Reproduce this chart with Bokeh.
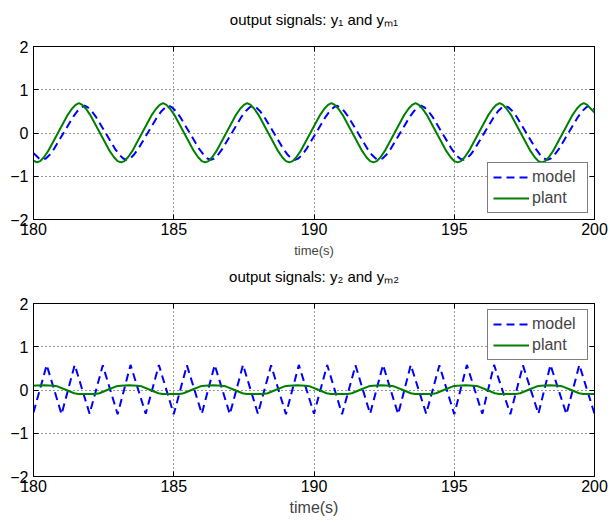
from bokeh.plotting import figure
from bokeh.models import FixedTicker, LinearAxis, Range1d, Legend, LegendItem
from bokeh.layouts import column
from bokeh.embed import file_html
from bokeh.resources import INLINE

# ---------------- data ----------------
x_ticks = [180, 185, 190, 195, 200]
y_ticks = [-2, -1, 0, 1, 2]
y_tick_labels = {-2: "\u22122", -1: "\u22121", 0: "0", 1: "1", 2: "2"}

title_1 = "output signals: y\u2081 and y\u2098\u2081"
title_2 = "output signals: y\u2082 and y\u2098\u2082"
x_label = "time(s)"
series_names = ["model", "plant"]

# top panel: plant output y1 (green)
t_plant1 = [180.00,
    180.12, 180.24, 180.37, 180.52, 180.87, 181.22, 181.37, 181.50, 181.62, 181.74, 181.87, 182.02, 182.37, 182.72, 182.87, 183.00,
    183.12, 183.24, 183.37, 183.52, 183.87, 184.22, 184.37, 184.50, 184.62, 184.74, 184.87, 185.02, 185.37, 185.72, 185.87, 186.00,
    186.12, 186.24, 186.37, 186.52, 186.87, 187.22, 187.37, 187.50, 187.62, 187.74, 187.87, 188.02, 188.37, 188.72, 188.87, 189.00,
    189.12, 189.24, 189.37, 189.52, 189.87, 190.22, 190.37, 190.50, 190.62, 190.74, 190.87, 191.02, 191.37, 191.72, 191.87, 192.00,
    192.12, 192.24, 192.37, 192.52, 192.87, 193.22, 193.37, 193.50, 193.62, 193.74, 193.87, 194.02, 194.37, 194.72, 194.87, 195.00,
    195.12, 195.24, 195.37, 195.52, 195.87, 196.22, 196.37, 196.50, 196.62, 196.74, 196.87, 197.02, 197.37, 197.72, 197.87, 198.00,
    198.12, 198.24, 198.37, 198.52, 198.87, 199.22, 199.37, 199.50, 199.62, 199.74, 199.87, 200.00]
y_plant1 = [-0.64,
    -0.68, -0.65, -0.56, -0.42, 0.00, 0.42, 0.56, 0.65, 0.69, 0.65, 0.56, 0.42, 0.00, -0.42, -0.56, -0.65,
    -0.68, -0.65, -0.56, -0.42, 0.00, 0.42, 0.56, 0.65, 0.69, 0.65, 0.56, 0.42, 0.00, -0.42, -0.56, -0.65,
    -0.68, -0.65, -0.56, -0.42, 0.00, 0.42, 0.56, 0.65, 0.69, 0.65, 0.56, 0.42, 0.00, -0.42, -0.56, -0.65,
    -0.68, -0.65, -0.56, -0.42, 0.00, 0.42, 0.56, 0.65, 0.69, 0.65, 0.56, 0.42, 0.00, -0.42, -0.56, -0.65,
    -0.68, -0.65, -0.56, -0.42, 0.00, 0.42, 0.56, 0.65, 0.69, 0.65, 0.56, 0.42, 0.00, -0.42, -0.56, -0.65,
    -0.68, -0.65, -0.56, -0.42, 0.00, 0.42, 0.56, 0.65, 0.69, 0.65, 0.56, 0.42, 0.00, -0.42, -0.56, -0.65,
    -0.68, -0.65, -0.56, -0.42, 0.00, 0.42, 0.56, 0.65, 0.69, 0.65, 0.56, 0.47]

# top panel: model output ym1 (blue dashed)
t_model1 = [180.00, 180.07, 180.20,
    180.32, 180.44, 180.57, 180.72, 181.07, 181.42, 181.57, 181.70, 181.82, 181.94, 182.07, 182.22, 182.57, 182.92, 183.07, 183.20,
    183.32, 183.44, 183.57, 183.72, 184.07, 184.42, 184.57, 184.70, 184.82, 184.94, 185.07, 185.22, 185.57, 185.92, 186.07, 186.20,
    186.32, 186.44, 186.57, 186.72, 187.07, 187.42, 187.57, 187.70, 187.82, 187.94, 188.07, 188.22, 188.57, 188.92, 189.07, 189.20,
    189.32, 189.44, 189.57, 189.72, 190.07, 190.42, 190.57, 190.70, 190.82, 190.94, 191.07, 191.22, 191.57, 191.92, 192.07, 192.20,
    192.32, 192.44, 192.57, 192.72, 193.07, 193.42, 193.57, 193.70, 193.82, 193.94, 194.07, 194.22, 194.57, 194.92, 195.07, 195.20,
    195.32, 195.44, 195.57, 195.72, 196.07, 196.42, 196.57, 196.70, 196.82, 196.94, 197.07, 197.22, 197.57, 197.92, 198.07, 198.20,
    198.32, 198.44, 198.57, 198.72, 199.07, 199.42, 199.57, 199.70, 199.82, 199.94, 200.00]
y_model1 = [-0.47, -0.51, -0.59,
    -0.62, -0.59, -0.51, -0.38, 0.00, 0.38, 0.51, 0.59, 0.63, 0.59, 0.51, 0.38, 0.00, -0.38, -0.51, -0.59,
    -0.62, -0.59, -0.51, -0.38, 0.00, 0.38, 0.51, 0.59, 0.63, 0.59, 0.51, 0.38, 0.00, -0.38, -0.51, -0.59,
    -0.62, -0.59, -0.51, -0.38, 0.00, 0.38, 0.51, 0.59, 0.63, 0.59, 0.51, 0.38, 0.00, -0.38, -0.51, -0.59,
    -0.62, -0.59, -0.51, -0.38, 0.00, 0.38, 0.51, 0.59, 0.63, 0.59, 0.51, 0.38, 0.00, -0.38, -0.51, -0.59,
    -0.62, -0.59, -0.51, -0.38, 0.00, 0.38, 0.51, 0.59, 0.63, 0.59, 0.51, 0.38, 0.00, -0.38, -0.51, -0.59,
    -0.62, -0.59, -0.51, -0.38, 0.00, 0.38, 0.51, 0.59, 0.63, 0.59, 0.51, 0.38, 0.00, -0.38, -0.51, -0.59,
    -0.62, -0.59, -0.51, -0.38, 0.00, 0.38, 0.51, 0.59, 0.63, 0.59, 0.55]

# bottom panel: plant output y2 (green)
t_plant2 = [180.00, 180.10, 180.40, 180.70, 180.85, 181.15, 181.45, 181.60, 181.90, 182.20, 182.35, 182.65, 182.95,
    183.10, 183.40, 183.70, 183.85, 184.15, 184.45, 184.60, 184.90, 185.20, 185.35, 185.65, 185.95,
    186.10, 186.40, 186.70, 186.85, 187.15, 187.45, 187.60, 187.90, 188.20, 188.35, 188.65, 188.95,
    189.10, 189.40, 189.70, 189.85, 190.15, 190.45, 190.60, 190.90, 191.20, 191.35, 191.65, 191.95,
    192.10, 192.40, 192.70, 192.85, 193.15, 193.45, 193.60, 193.90, 194.20, 194.35, 194.65, 194.95,
    195.10, 195.40, 195.70, 195.85, 196.15, 196.45, 196.60, 196.90, 197.20, 197.35, 197.65, 197.95,
    198.10, 198.40, 198.70, 198.85, 199.15, 199.45, 199.60, 199.90, 200.00]
y_plant2 = [0.10, 0.105, 0.11, 0.10, 0.085, 0.005, -0.075, -0.09, -0.095, -0.09, -0.075, 0.005, 0.085,
    0.10, 0.11, 0.10, 0.085, 0.005, -0.075, -0.09, -0.095, -0.09, -0.075, 0.005, 0.085,
    0.10, 0.11, 0.10, 0.085, 0.005, -0.075, -0.09, -0.095, -0.09, -0.075, 0.005, 0.085,
    0.10, 0.11, 0.10, 0.085, 0.005, -0.075, -0.09, -0.095, -0.09, -0.075, 0.005, 0.085,
    0.10, 0.11, 0.10, 0.085, 0.005, -0.075, -0.09, -0.095, -0.09, -0.075, 0.005, 0.085,
    0.10, 0.11, 0.10, 0.085, 0.005, -0.075, -0.09, -0.095, -0.09, -0.075, 0.005, 0.085,
    0.10, 0.11, 0.10, 0.085, 0.005, -0.075, -0.09, -0.095, -0.093]

# bottom panel: model output ym2 (blue dashed)
t_model2 = [180.00, 180.47, 181.00, 181.47, 182.00, 182.47, 183.00, 183.46, 184.00, 184.47,
    185.00, 185.47, 186.00, 186.46, 187.00, 187.47, 188.00, 188.47, 189.00, 189.46,
    190.00, 190.47, 191.00, 191.48, 192.00, 192.46, 193.00, 193.45, 194.00, 194.47,
    195.00, 195.45, 196.00, 196.42, 197.00, 197.45, 198.00, 198.43, 199.00, 199.46, 200.00]
y_model2 = [-0.52, 0.58, -0.56, 0.58, -0.55, 0.57, -0.56, 0.58, -0.55, 0.58,
    -0.56, 0.57, -0.55, 0.58, -0.56, 0.58, -0.55, 0.57, -0.56, 0.58,
    -0.55, 0.58, -0.56, 0.57, -0.55, 0.58, -0.56, 0.58, -0.55, 0.57,
    -0.56, 0.58, -0.55, 0.58, -0.56, 0.57, -0.55, 0.58, -0.56, 0.58, -0.55]

# ---------------- styling ----------------
FONT = "Liberation Sans"
BLUE = "#0000ff"
GREEN = "#008000"


def style_axis(ax, label_size, show_labels=True):
    ax.major_tick_in = 5
    ax.major_tick_out = 0
    ax.minor_tick_line_color = None
    ax.major_tick_line_color = "black"
    ax.axis_line_color = "black"
    ax.major_label_text_font = FONT
    ax.major_label_text_color = "black"
    ax.major_label_text_font_size = label_size
    if not show_labels:
        ax.major_label_text_color = None
        ax.major_label_standoff = 0


def make_panel(title, t_model, y_model, t_plant, y_plant, height, top, bottom,
               xlabel_size, xlabel_standoff, legend_loc, title_standoff):
    p = figure(width=610, height=height, output_backend="svg", toolbar_location=None,
               x_range=Range1d(180, 200), y_range=Range1d(-2, 2),
               min_border_left=33, min_border_right=16,
               min_border_top=top, min_border_bottom=bottom)
    p.background_fill_color = "white"
    p.border_fill_color = "white"
    p.outline_line_color = "black"
    p.outline_line_width = 1

    r_model = p.line(t_model, y_model, line_color=BLUE, line_width=2, line_dash="8 5")
    r_plant = p.line(t_plant, y_plant, line_color=GREEN, line_width=2)

    p.xaxis.ticker = FixedTicker(ticks=x_ticks)
    p.yaxis.ticker = FixedTicker(ticks=y_ticks)
    p.yaxis.major_label_overrides = y_tick_labels
    for ax in p.xaxis + p.yaxis:
        style_axis(ax, "16px")
    p.xaxis.major_label_standoff = 3
    p.yaxis.major_label_standoff = 5
    p.xaxis.axis_label = x_label
    p.xaxis.axis_label_text_font = FONT
    p.xaxis.axis_label_text_font_size = xlabel_size
    p.xaxis.axis_label_text_font_style = "normal"
    p.xaxis.axis_label_standoff = xlabel_standoff

    # mirrored tick marks on top and right (MATLAB "box on"); the top axis
    # also carries the panel title as its axis label, centred on the frame
    top_ax = LinearAxis(ticker=FixedTicker(ticks=x_ticks))
    right_ax = LinearAxis(ticker=FixedTicker(ticks=y_ticks))
    style_axis(top_ax, "1px", show_labels=False)
    style_axis(right_ax, "1px", show_labels=False)
    top_ax.axis_label = title
    top_ax.axis_label_text_font = FONT
    top_ax.axis_label_text_font_size = "15px"
    top_ax.axis_label_text_font_style = "normal"
    top_ax.axis_label_text_color = "black"
    top_ax.axis_label_standoff = title_standoff
    p.add_layout(top_ax, "above")
    p.add_layout(right_ax, "right")

    p.xgrid.ticker = FixedTicker(ticks=x_ticks)
    p.ygrid.ticker = FixedTicker(ticks=y_ticks)
    for g in (p.xgrid, p.ygrid):
        g.grid_line_color = "#303030"
        g.grid_line_width = 1
        g.grid_line_dash = "1 3"

    legend = Legend(items=[LegendItem(label=series_names[0], renderers=[r_model]),
                           LegendItem(label=series_names[1], renderers=[r_plant])],
                    location=legend_loc)
    legend.margin = 6
    legend.padding = 5
    legend.spacing = 3
    legend.glyph_width = 36
    legend.glyph_height = 18
    legend.label_standoff = 3
    legend.label_width = 50
    legend.label_text_font = FONT
    legend.label_text_font_size = "16px"
    legend.label_text_line_height = 1.0
    legend.border_line_color = "black"
    legend.border_line_width = 1
    legend.background_fill_color = "white"
    legend.background_fill_alpha = 1.0
    p.add_layout(legend)
    return p


p1 = make_panel(title_1, t_model1, y_model1, t_plant1, y_plant1,
                height=263, top=46, bottom=44, xlabel_size="13px", xlabel_standoff=5,
                legend_loc="bottom_right", title_standoff=19)
p2 = make_panel(title_2, t_model2, y_model2, t_plant2, y_plant2,
                height=260, top=40, bottom=47, xlabel_size="16px", xlabel_standoff=4,
                legend_loc="top_right", title_standoff=19)

layout = column(p1, p2, spacing=0)
open("out.html", "w").write(file_html(layout, INLINE))
